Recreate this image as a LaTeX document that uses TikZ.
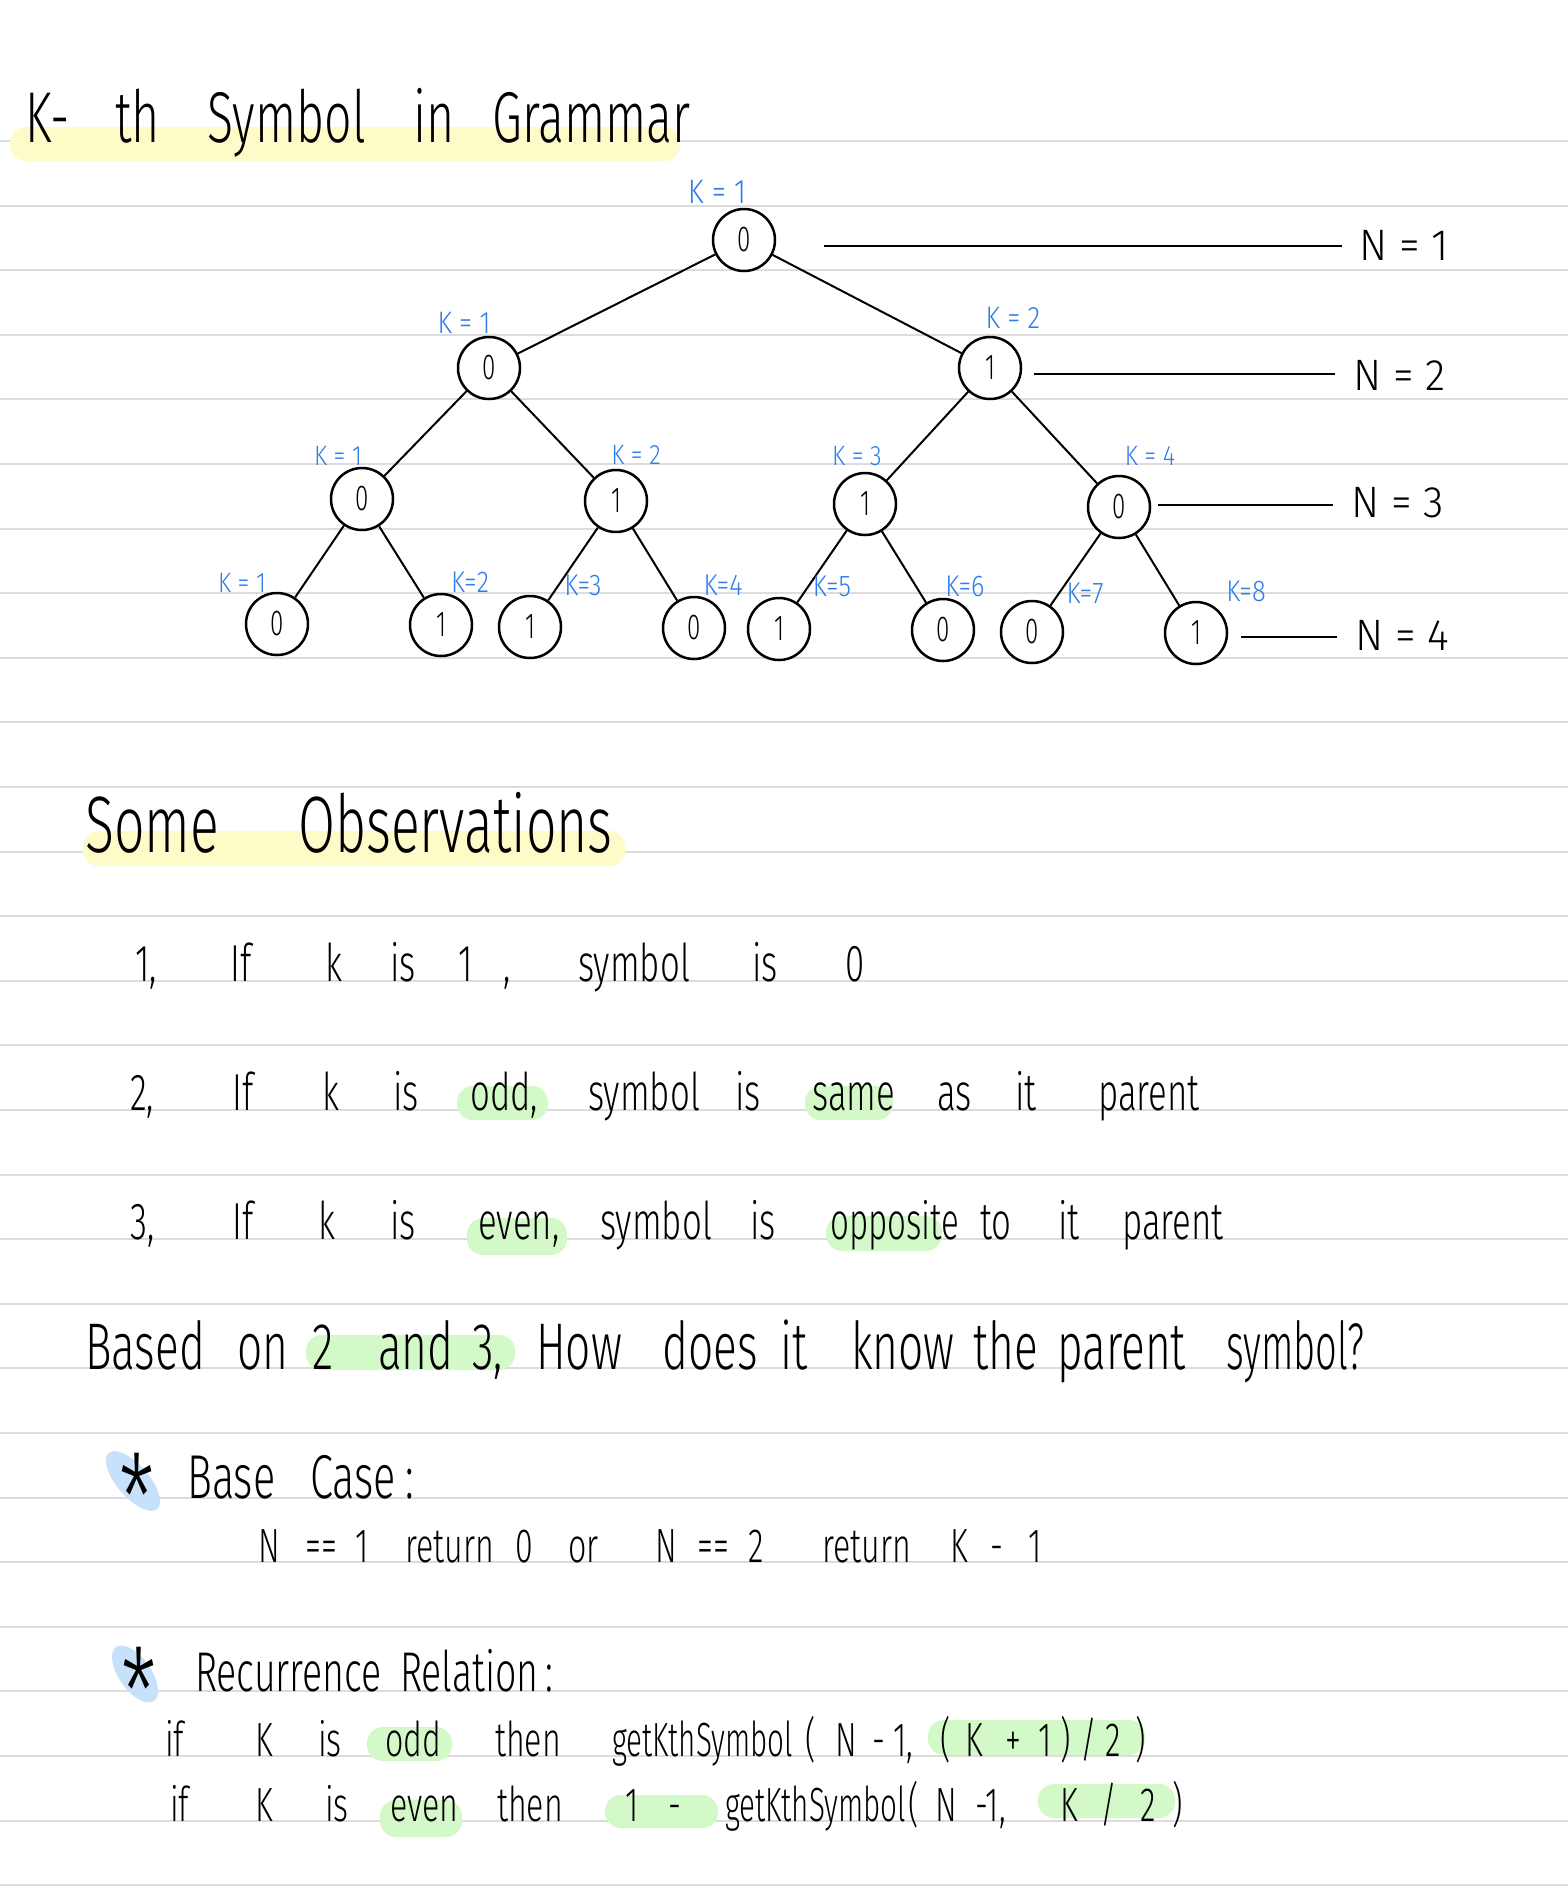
\documentclass[tikz,border=0pt]{standalone}
\usepackage{fontspec}
\usepackage{graphicx}
\newfontfamily\hwfont{Fira Sans Light}[FakeStretch=0.67]
\newfontfamily\klfont{Fira Sans Light}[FakeStretch=0.85]
\newfontfamily\nfont{Fira Sans Light}[FakeStretch=0.95]
\definecolor{kblue}{RGB}{45,125,235}
\definecolor{hlyellow}{RGB}{253,251,200}
\definecolor{hlgreen}{RGB}{212,249,200}
\definecolor{hlblue}{RGB}{200,225,250}
\definecolor{rulegray}{RGB}{220,220,220}
\newcounter{wc}
\newcommand\hwt[4][]{\stepcounter{wc}\node[hw,#1] (w\arabic{wc}) at (#2,#3) {#4};}
\begin{document}
\begin{tikzpicture}[x=1pt,y=-1pt,
  sz/.style={font=\hwfont\fontsize{#1}{#1}\selectfont},
  ksz/.style={font=\klfont\fontsize{#1}{#1}\selectfont},
  hw/.style={anchor=base west, inner sep=0pt, sz=52},
  rule/.style={draw=rulegray, line width=2pt},
  vnode/.style={circle, draw, line width=2.5pt, minimum size=62pt, inner sep=0pt, fill=white, sz=36},
  edge/.style={line width=2pt},
  klab/.style={text=kblue, inner sep=0pt, anchor=base},
  nlab/.style={anchor=base west, inner sep=0pt, font=\nfont\fontsize{44}{44}\selectfont},
  nline/.style={line width=2pt},
  starmark/.style={inner sep=0pt, sz=120},
  hly/.style={fill=hlyellow, rounded corners=16pt},
  hlg/.style={fill=hlgreen, rounded corners=16pt}]
\useasboundingbox (0,0) rectangle (1568,1891);
\fill[white] (0,0) rectangle (1568,1891);
% ruled lines
\foreach \i in {0,...,27}{\draw[rule] (0,{141+64.6*\i}) -- (1568,{141+64.6*\i});}
% highlights
\fill[hly] (10,127) rectangle (680,161);
\fill[hly] (83,831) rectangle (625,866);
\fill[hlg] (457,1086) rectangle (548,1120);
\fill[hlg] (805,1086) rectangle (893,1120);
\fill[hlg] (467,1218) rectangle (567,1255);
\fill[hlg] (826,1216) rectangle (942,1251);
\fill[hlg] (306,1335) rectangle (515,1370);
\fill[hlg] (367,1727) rectangle (452,1761);
\fill[hlg] (928,1720) rectangle (1145,1755);
\fill[hlg] (380,1800) rectangle (462,1837);
\fill[hlg] (605,1795) rectangle (718,1828);
\fill[hlg] (1038,1784) rectangle (1175,1818);
\fill[hlblue, rotate around={41:(133,1481)}] (133,1481) ellipse [x radius=16, y radius=37];
\fill[hlblue, rotate around={35:(135,1674)}] (135,1674) ellipse [x radius=16, y radius=33];
% title
\hwt[sz=72]{25}{142}{K-}
\hwt[sz=72]{115}{142}{th}
\hwt[sz=72]{207}{142}{Symbol}
\hwt[sz=72]{413}{142}{in}
\hwt[sz=72]{492}{142}{Grammar}
% tree
\node[vnode] (r) at (744,240) {0};
\node[vnode] (a) at (489,368) {0};
\node[vnode] (b) at (990,368) {1};
\node[vnode] (a1) at (362,499) {0};
\node[vnode] (a2) at (616,501) {1};
\node[vnode] (b1) at (865,504) {1};
\node[vnode] (b2) at (1119,507) {0};
\node[vnode] (l1) at (277,624) {0};
\node[vnode] (l2) at (441,625) {1};
\node[vnode] (l3) at (530,627) {1};
\node[vnode] (l4) at (694,628) {0};
\node[vnode] (l5) at (779,629) {1};
\node[vnode] (l6) at (943,630) {0};
\node[vnode] (l7) at (1032,632) {0};
\node[vnode] (l8) at (1196,633) {1};
\draw[edge] (r) -- (a); \draw[edge] (r) -- (b);
\draw[edge] (a) -- (a1); \draw[edge] (a) -- (a2);
\draw[edge] (b) -- (b1); \draw[edge] (b) -- (b2);
\draw[edge] (a1) -- (l1); \draw[edge] (a1) -- (l2);
\draw[edge] (a2) -- (l3); \draw[edge] (a2) -- (l4);
\draw[edge] (b1) -- (l5); \draw[edge] (b1) -- (l6);
\draw[edge] (b2) -- (l7); \draw[edge] (b2) -- (l8);
% K labels
\node[klab, ksz=34] (kr) at (717,203) {K = 1};
\node[klab, ksz=31] (ka) at (464,333) {K = 1};
\node[klab, ksz=31] (kb) at (1013,328) {K = 2};
\node[klab, ksz=28] (ka1) at (338,465) {K = 1};
\node[klab, ksz=28] (ka2) at (636,464) {K = 2};
\node[klab, ksz=28] (kb1) at (857,465) {K = 3};
\node[klab, ksz=28] (kb2) at (1150,465) {K = 4};
\node[klab, ksz=28] (kl1) at (242,592) {K = 1};
\node[klab, ksz=30] (kl2) at (470,592) {K=2};
\node[klab, ksz=30] (kl3) at (583,595) {K=3};
\node[klab, ksz=30] (kl4) at (723,595) {K=4};
\node[klab, ksz=30] (kl5) at (832,596) {K=5};
\node[klab, ksz=30] (kl6) at (965,596) {K=6};
\node[klab, ksz=30] (kl7) at (1085,603) {K=7};
\node[klab, ksz=30] (kl8) at (1246,601) {K=8};
% N levels
\node[nlab] (n1) at (1359,260) {N = 1};
\node[nlab] (n2) at (1353,390) {N = 2};
\node[nlab] (n3) at (1351,517) {N = 3};
\node[nlab] (n4) at (1355,650) {N = 4};
\coordinate (s1) at (824,246); \coordinate (e1) at (1342,246);
\coordinate (s2) at (1034,374); \coordinate (e2) at (1335,374);
\coordinate (s3) at (1158,505); \coordinate (e3) at (1333,505);
\coordinate (s4) at (1241,637); \coordinate (e4) at (1337,637);
\draw[nline] (s1) -- (e1);
\draw[nline] (s2) -- (e2);
\draw[nline] (s3) -- (e3);
\draw[nline] (s4) -- (e4);
% Some Observations
\hwt[sz=80]{85}{852}{Some}
\hwt[sz=80]{298}{852}{Observations}
% line 1
\hwt{135}{981}{1,}
\hwt{230}{981}{If}
\hwt{325}{981}{k}
\hwt{390}{981}{is}
\hwt{458}{981}{1}
\hwt{503}{981}{,}
\hwt{578}{981}{symbol}
\hwt{752}{981}{is}
\hwt{845}{981}{0}
% line 2
\hwt{130}{1110}{2,}
\hwt{232}{1110}{If}
\hwt{322}{1110}{k}
\hwt{393}{1110}{is}
\hwt{470}{1110}{odd,}
\hwt{588}{1110}{symbol}
\hwt{735}{1110}{is}
\hwt{812}{1110}{same}
\hwt{937}{1110}{as}
\hwt{1015}{1110}{it}
\hwt{1098}{1110}{parent}
% line 3
\hwt{130}{1239}{3,}
\hwt{232}{1239}{If}
\hwt{318}{1239}{k}
\hwt{390}{1239}{is}
\hwt{478}{1239}{even,}
\hwt{600}{1239}{symbol}
\hwt{750}{1239}{is}
\hwt[xscale=0.95]{830}{1239}{opposite}
\hwt{980}{1239}{to}
\hwt{1058}{1239}{it}
\hwt{1122}{1239}{parent}
% based line
\hwt[sz=66]{85}{1369}{Based}
\hwt[sz=66]{237}{1369}{on}
\hwt[sz=66]{312}{1369}{2}
\hwt[sz=66]{378}{1369}{and}
\hwt[sz=66]{472}{1369}{3,}
\hwt[sz=66]{536}{1369}{How}
\hwt[sz=66]{662}{1369}{does}
\hwt[sz=66]{780}{1369}{it}
\hwt[sz=66]{851}{1369}{know}
\hwt[sz=66]{973}{1369}{the}
\hwt[sz=66]{1057}{1369}{parent}
\hwt[sz=66,xscale=0.86]{1226}{1369}{symbol?}
% base case
\node[starmark] (st1) at (137,1497) {*};
\hwt[sz=62]{187}{1498}{Base}
\hwt[sz=62]{310}{1498}{Case}
\hwt[sz=62]{405}{1498}{:}
\hwt[sz=48]{258}{1562}{N}
\hwt[sz=48]{305}{1562}{==}
\hwt[sz=48]{355}{1562}{1}
\hwt[sz=48]{405}{1562}{return}
\hwt[sz=48]{515}{1562}{0}
\hwt[sz=48]{568}{1562}{or}
\hwt[sz=48]{655}{1562}{N}
\hwt[sz=48]{697}{1562}{==}
\hwt[sz=48]{748}{1562}{2}
\hwt[sz=48]{822}{1562}{return}
\hwt[sz=48]{950}{1562}{K}
\hwt[sz=48]{990}{1562}{-}
\hwt[sz=48]{1028}{1562}{1}
% recurrence
\node[starmark] (st2) at (139,1691) {*};
\hwt[sz=56]{195}{1691}{Recurrence}
\hwt[sz=56]{400}{1691}{Relation}
\hwt[sz=56]{545}{1691}{:}
\hwt[sz=48]{165}{1756}{if}
\hwt[sz=48]{255}{1756}{K}
\hwt[sz=48]{318}{1756}{is}
\hwt[sz=48]{385}{1756}{odd}
\hwt[sz=48]{495}{1756}{then}
\hwt[sz=48,xscale=0.92]{612}{1756}{getKthSymbol}
\hwt[sz=48]{805}{1756}{(}
\hwt[sz=48]{835}{1756}{N}
\hwt[sz=48]{872}{1756}{-}
\hwt[sz=48]{893}{1756}{1,}
\hwt[sz=48]{940}{1756}{(}
\hwt[sz=48]{965}{1756}{K}
\hwt[sz=48]{1005}{1756}{+}
\hwt[sz=48]{1038}{1756}{1}
\hwt[sz=48]{1060}{1756}{)}
\hwt[sz=48]{1080}{1756}{/}
\hwt[sz=48]{1105}{1756}{2}
\hwt[sz=48]{1135}{1756}{)}
\hwt[sz=48]{170}{1821}{if}
\hwt[sz=48]{255}{1821}{K}
\hwt[sz=48]{325}{1821}{is}
\hwt[sz=48]{390}{1821}{even}
\hwt[sz=48]{497}{1821}{then}
\hwt[sz=48]{625}{1821}{1}
\hwt[sz=48]{668}{1821}{-}
\hwt[sz=48,xscale=0.92]{725}{1821}{getKthSymbol}
\hwt[sz=48]{908}{1821}{(}
\hwt[sz=48]{935}{1821}{N}
\hwt[sz=48]{975}{1821}{-1,}
\hwt[sz=48]{1060}{1821}{K}
\hwt[sz=48]{1100}{1821}{/}
\hwt[sz=48]{1140}{1821}{2}
\hwt[sz=48]{1172}{1821}{)}
\end{tikzpicture}
\end{document}
